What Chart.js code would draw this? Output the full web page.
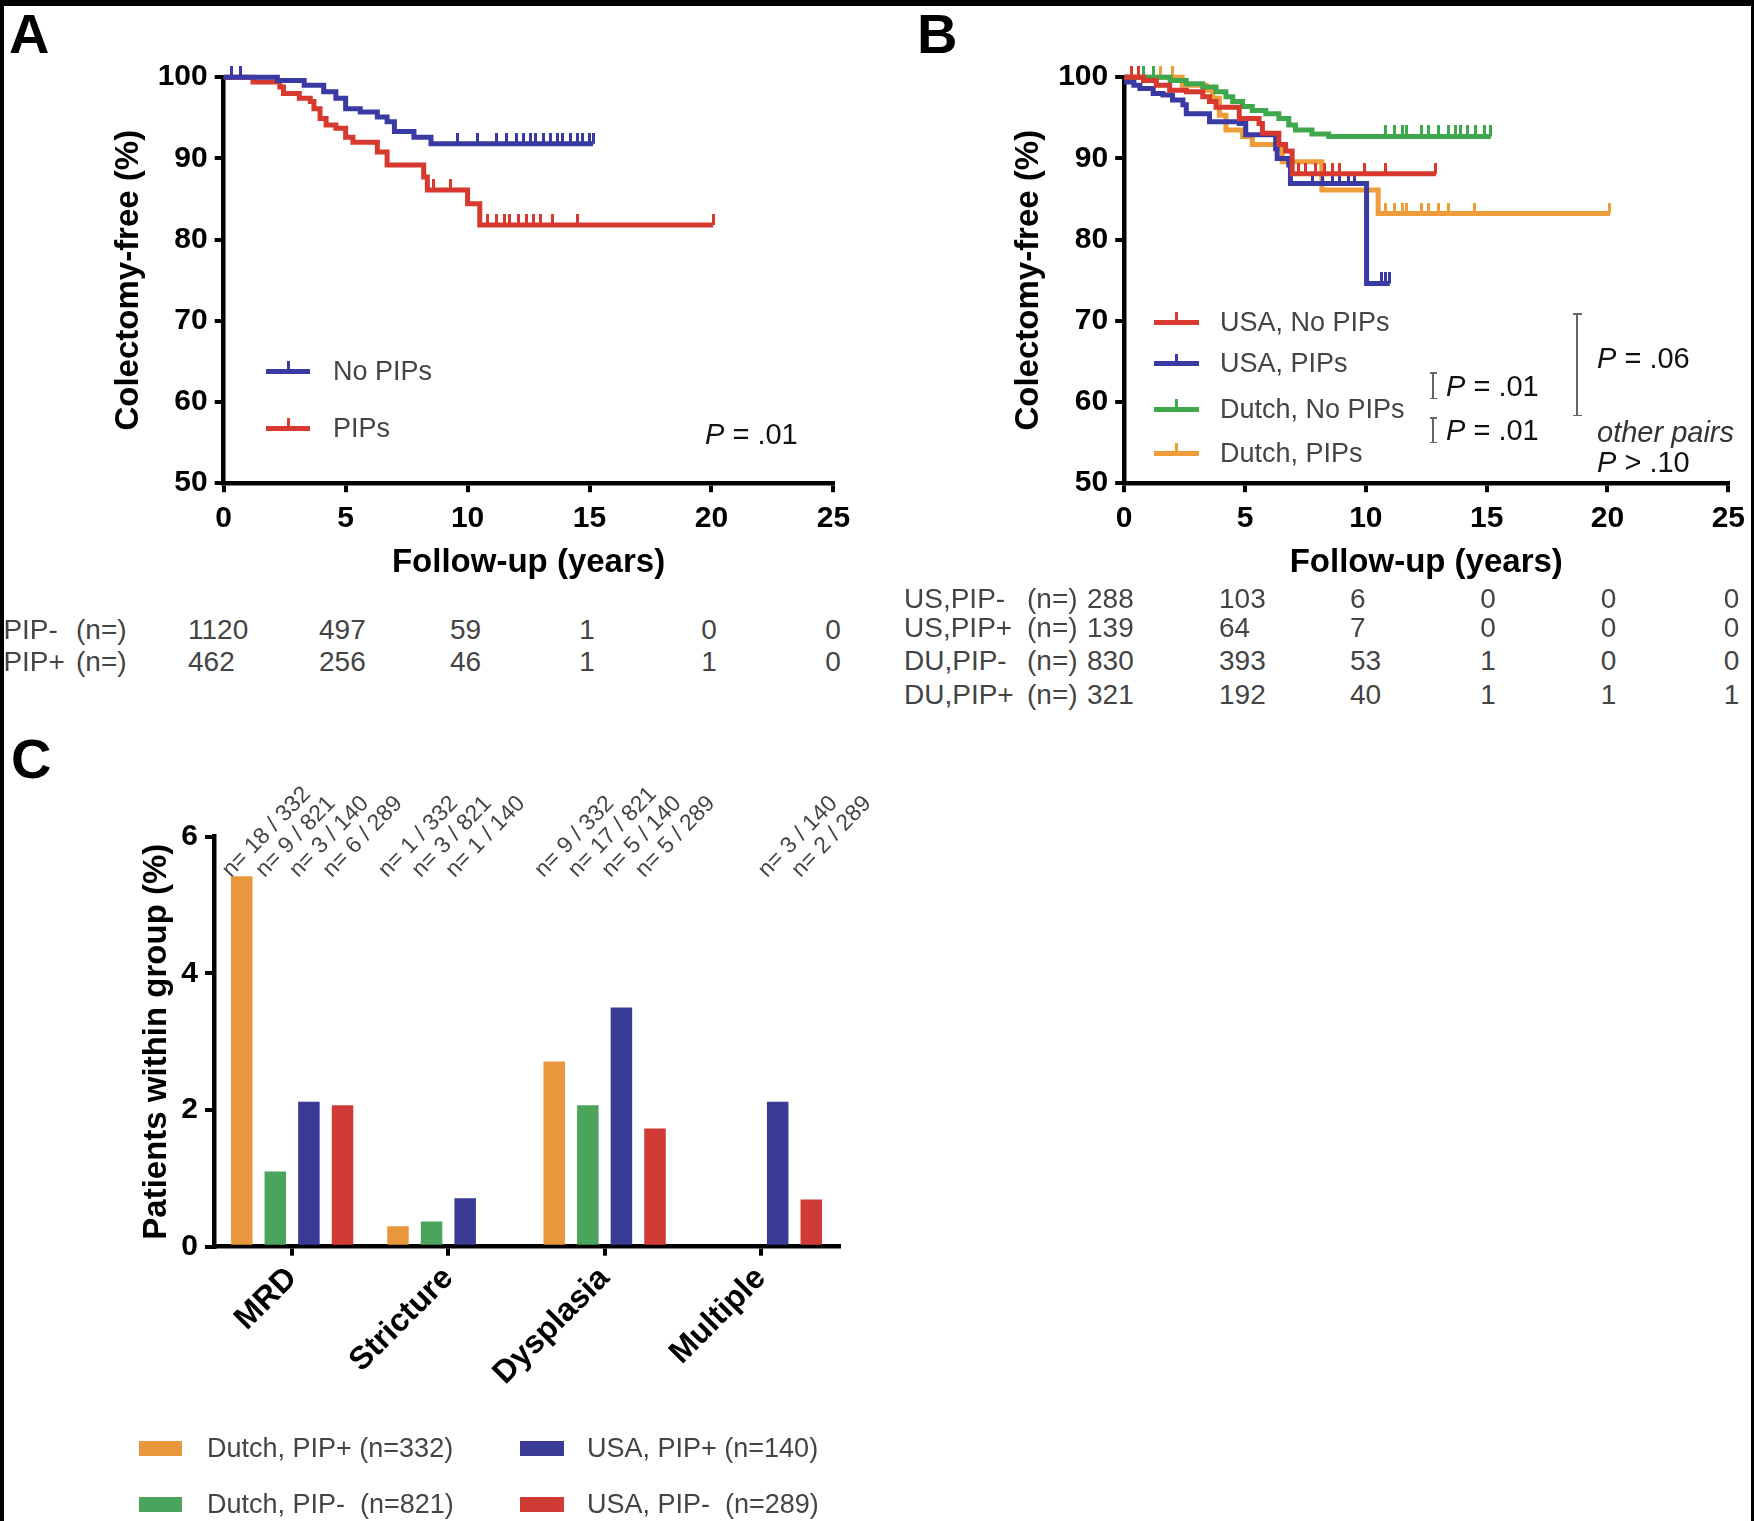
<!DOCTYPE html>
<html>
<head>
<meta charset="utf-8">
<title>Colectomy-free survival and colectomy indications</title>
<script src="https://cdn.jsdelivr.net/npm/chart.js@4.4.1/dist/chart.umd.min.js"></script>
<style>
  html, body { margin: 0; padding: 0; background: #fff; }
  #page {
    position: relative; width: 1754px; height: 1521px; overflow: hidden; background: #fff;
    font-family: "Liberation Sans", Arial, sans-serif;
  }
  #page canvas { position: absolute; }
  #frame {
    position: absolute; left: 0; top: 0; width: 1754px; height: 1521px; box-sizing: border-box;
    border-top: 6px solid #000; border-left: 4px solid #000; border-right: 3px solid #000;
    pointer-events: none; z-index: 5;
  }
  .txt { position: absolute; white-space: pre; line-height: 1; color: #444; z-index: 3; }
  .box { position: absolute; z-index: 3; }
</style>
</head>
<body>
<div id="page">
  <canvas id="chartA" width="860" height="600" style="left:0;top:0"></canvas>
  <canvas id="chartB" width="874" height="600" style="left:880px;top:0"></canvas>
  <canvas id="chartC" width="900" height="821" style="left:0;top:700px"></canvas>
  <div id="frame"></div>
</div>
<script>
// ---- data ----
const yearTicks = [0, 5, 10, 15, 20, 25];
const freeTicks = [50, 60, 70, 80, 90, 100];
const pctTicks = [0, 2, 4, 6];

// Panel A: colectomy-free (%) step points
const noPipYears = [0, 2.2, 3.3, 4.1, 4.6, 5.0, 5.6, 6.3, 6.7, 7.0, 7.8, 8.5, 15.15];
const noPipFree = [100, 99.6, 99.0, 98.2, 97.4, 96.1, 95.7, 95.1, 94.5, 93.3, 92.6, 91.8, 91.8];
const noPipCensored = [0.3, 0.7, 9.6, 10.4, 11.2, 11.6, 12.0, 12.3, 12.6, 12.8, 13.1, 13.4, 13.7, 13.9, 14.2, 14.5, 14.7, 15.0, 15.15];

const pipYears = [0, 1.2, 2.3, 2.45, 3.1, 3.55, 3.7, 3.95, 4.2, 4.6, 5.0, 5.3, 6.3, 6.7, 8.2, 8.35, 10.0, 10.5, 20.07];
const pipFree = [100, 99.4, 98.8, 98.0, 97.4, 97.0, 96.1, 94.9, 94.1, 93.7, 92.6, 92.0, 90.8, 89.2, 87.7, 86.1, 84.4, 81.8, 81.8];
const pipCensored = [8.6, 9.3, 10.8, 11.2, 11.5, 11.7, 12.1, 12.4, 12.7, 13.0, 13.5, 14.5, 20.07];

// Panel B
const usNoPipYears = [0, 0.8, 1.33, 1.88, 2.57, 3.25, 3.53, 3.8, 4.76, 5.58, 5.72, 6.4, 6.68, 6.95, 12.9];
const usNoPipFree = [100, 99.6, 99.0, 98.4, 98.2, 97.6, 97.0, 96.3, 94.9, 94.3, 93.1, 91.7, 90.9, 88.1, 88.1];
const usNoPipCensored = [0.3, 0.6, 7.2, 7.5, 7.9, 8.3, 8.6, 8.9, 9.96, 10.8, 12.9];

const usPipYears = [0, 0.1, 0.4, 0.65, 1.2, 1.6, 2.0, 2.43, 2.57, 3.53, 4.76, 5.03, 6.27, 6.33, 6.81, 6.88, 10.03, 10.99];
const usPipFree = [100, 99.4, 99.0, 98.6, 98.0, 97.8, 97.2, 96.6, 95.5, 94.5, 94.3, 92.9, 91.2, 90.0, 89.2, 86.9, 74.6, 74.6];
const usPipCensored = [7.8, 8.2, 8.6, 8.9, 9.3, 9.55, 10.65, 10.8, 10.99];

const duNoPipYears = [0, 1.9, 2.57, 3.25, 3.8, 4.21, 4.49, 4.9, 5.3, 5.86, 6.4, 6.81, 7.09, 7.77, 8.46, 15.17];
const duNoPipFree = [100, 99.6, 99.2, 98.8, 98.2, 97.6, 97.0, 96.4, 95.9, 95.5, 94.9, 94.1, 93.5, 93.0, 92.7, 92.7];
const duNoPipCensored = [0.8, 1.2, 10.8, 11.2, 11.5, 11.7, 12.3, 12.6, 13.0, 13.4, 13.7, 13.9, 14.2, 14.55, 14.9, 15.17];

const duPipYears = [0, 2.4, 3.39, 3.66, 3.94, 4.21, 4.9, 5.3, 6.27, 6.54, 8.18, 10.51, 20.1];
const duPipFree = [100, 99.0, 98.4, 97.4, 95.3, 93.5, 92.7, 91.7, 91.2, 89.6, 86.1, 83.2, 83.2];
const duPipCensored = [1.5, 2.0, 10.8, 11.2, 11.5, 11.7, 12.3, 12.6, 13.0, 13.4, 14.5, 20.1];

// numbers at risk
const riskNoPip = [1120, 497, 59, 1, 0, 0];
const riskPip = [462, 256, 46, 1, 1, 0];
const riskUsNoPip = [288, 103, 6, 0, 0, 0];
const riskUsPip = [139, 64, 7, 0, 0, 0];
const riskDuNoPip = [830, 393, 53, 1, 0, 0];
const riskDuPip = [321, 192, 40, 1, 1, 1];

// Panel C: patients within group (%)
const causes = ["MRD", "Stricture", "Dysplasia", "Multiple"];
const dutchPipPos = [5.42, 0.3, 2.71, null];
const dutchPipNeg = [1.1, 0.37, 2.07, null];
const usaPipPos = [2.12, 0.71, 3.5, 2.12];
const usaPipNeg = [2.07, null, 1.73, 0.69];
const dutchPipPosN = ["n= 18 / 332", "n= 1 / 332", "n= 9 / 332", null];
const dutchPipNegN = ["n= 9 / 821", "n= 3 / 821", "n= 17 / 821", null];
const usaPipPosN = ["n= 3 / 140", "n= 1 / 140", "n= 5 / 140", "n= 3 / 140"];
const usaPipNegN = ["n= 6 / 289", null, "n= 5 / 289", "n= 2 / 289"];

// ---- colours ----
const kmBlue = "#3a3aa4";
const kmRed = "#d8392f";
const kmGreen = "#3fa84c";
const kmOrange = "#ef9c3b";
const barOrange = "#e9973d";
const barGreen = "#4ba45b";
const barBlue = "#393b95";
const barRed = "#d03b36";

Chart.defaults.font.family = '"Liberation Sans", Arial, sans-serif';
Chart.defaults.color = "#000";

const axisFont = { size: 30, weight: "bold" };
const titleFont = { size: 33, weight: "bold" };
const titleHalf = 33 * 1.2 / 2;

function survivalAt(years, free, t) {
  let v = free[0];
  for (let i = 0; i < years.length; i++) {
    if (years[i] <= t) v = free[i];
  }
  return v;
}

// small upward censor tick, used as point style
function tickImage(color) {
  const c = document.createElement("canvas");
  c.width = 3;
  c.height = 22;
  const g = c.getContext("2d");
  g.fillStyle = color;
  g.fillRect(0, 0, 3, 11);
  return c;
}

function axisGrid() {
  return {
    display: true, drawOnChartArea: false, drawTicks: true,
    tickLength: 9, tickWidth: 4, tickColor: "#000", color: "#000", lineWidth: 4
  };
}

function kmChart(id, box, curves) {
  const xHeight = 110;
  const datasets = [];
  curves.forEach(function (c) {
    datasets.push({
      data: c.years.map((t, i) => ({ x: t, y: c.free[i] })),
      stepped: true, borderColor: c.color, borderWidth: 5,
      pointRadius: 0, fill: false, clip: false
    });
    datasets.push({
      data: c.censored.map(t => ({ x: t, y: survivalAt(c.years, c.free, t) })),
      showLine: false, pointStyle: tickImage(c.color), pointRadius: 5, clip: false
    });
  });

  return new Chart(document.getElementById(id), {
    type: "line",
    data: { datasets: datasets },
    options: {
      responsive: false,
      animation: false,
      layout: {
        padding: {
          left: 0,
          top: box.plotTop - box.top,
          right: box.left + box.width - box.plotRight,
          bottom: box.top + box.height - box.plotBottom - xHeight
        }
      },
      plugins: { legend: { display: false }, tooltip: { enabled: false } },
      scales: {
        x: {
          type: "linear", min: 0, max: 25,
          afterBuildTicks: s => { s.ticks = yearTicks.map(v => ({ value: v })); },
          afterFit: s => { s.height = xHeight; },
          grid: axisGrid(),
          border: { display: true, color: "#000", width: 4.5 },
          ticks: { font: axisFont, color: "#000", padding: 9, maxRotation: 0 },
          title: {
            display: true, text: "Follow-up (years)", font: titleFont, color: "#000",
            padding: { top: 0, bottom: box.plotBottom + xHeight - titleHalf - box.xTitleY }
          }
        },
        y: {
          type: "linear", min: 50, max: 100,
          afterBuildTicks: s => { s.ticks = freeTicks.map(v => ({ value: v })); },
          afterFit: s => { s.width = box.plotLeft - box.left; },
          grid: axisGrid(),
          border: { display: true, color: "#000", width: 4.5 },
          ticks: { font: axisFont, color: "#000", padding: 7 },
          title: {
            display: true, text: "Colectomy-free (%)", font: titleFont, color: "#000",
            padding: { top: box.yTitleX - box.left - titleHalf, bottom: 0 }
          }
        }
      }
    }
  });
}

kmChart("chartA",
  { left: 0, top: 0, width: 860, height: 600, plotLeft: 223.7, plotRight: 833.4, plotTop: 77.2, plotBottom: 483.2, yTitleX: 128.6, xTitleY: 562.7 },
  [
    { years: noPipYears, free: noPipFree, censored: noPipCensored, color: kmBlue },
    { years: pipYears, free: pipFree, censored: pipCensored, color: kmRed }
  ]);

kmChart("chartB",
  { left: 880, top: 0, width: 874, height: 600, plotLeft: 1124.2, plotRight: 1732.7, plotTop: 77.2, plotBottom: 483.2, yTitleX: 1029, xTitleY: 562.7 },
  [
    { years: usNoPipYears, free: usNoPipFree, censored: usNoPipCensored, color: kmRed },
    { years: usPipYears, free: usPipFree, censored: usPipCensored, color: kmBlue },
    { years: duNoPipYears, free: duNoPipFree, censored: duNoPipCensored, color: kmGreen },
    { years: duPipYears, free: duPipFree, censored: duPipCensored, color: kmOrange }
  ]);

// rotated "n= x / y" labels above each bar, starting at the tallest bar's top
const nLabelPlugin = {
  id: "nLabels",
  afterDatasetsDraw(chart) {
    const ctx = chart.ctx;
    let maxVal = 0;
    chart.data.datasets.forEach(ds => ds.data.forEach(v => { if (v != null && v > maxVal) maxVal = v; }));
    const top = chart.scales.y.getPixelForValue(maxVal) + 2;
    chart.data.datasets.forEach((ds, i) => {
      const meta = chart.getDatasetMeta(i);
      ds.nLabels.forEach((txt, j) => {
        if (!txt) return;
        const bar = meta.data[j];
        ctx.save();
        ctx.translate(bar.x - bar.width / 2, top);
        ctx.rotate(-46 * Math.PI / 180);
        ctx.font = '23px "Liberation Sans", Arial, sans-serif';
        ctx.fillStyle = "#444";
        ctx.textAlign = "left";
        ctx.textBaseline = "alphabetic";
        ctx.fillText(txt, 0, 0);
        ctx.restore();
      });
    });
  }
};

const boxC = { left: 0, top: 700, width: 900, height: 821, plotLeft: 214, plotRight: 839, plotTop: 836.7, plotBottom: 1246.7, yTitleX: 156.6 };

new Chart(document.getElementById("chartC"), {
  type: "bar",
  data: {
    labels: causes,
    datasets: [
      { label: "Dutch, PIP+ (n=332)", data: dutchPipPos, nLabels: dutchPipPosN, backgroundColor: barOrange },
      { label: "Dutch, PIP-  (n=821)", data: dutchPipNeg, nLabels: dutchPipNegN, backgroundColor: barGreen },
      { label: "USA, PIP+ (n=140)", data: usaPipPos, nLabels: usaPipPosN, backgroundColor: barBlue },
      { label: "USA, PIP-  (n=289)", data: usaPipNeg, nLabels: usaPipNegN, backgroundColor: barRed }
    ]
  },
  options: {
    responsive: false,
    animation: false,
    datasets: { bar: { barPercentage: 0.64, categoryPercentage: 0.86 } },
    layout: {
      padding: { left: 0, top: boxC.plotTop - boxC.top, right: boxC.left + boxC.width - boxC.plotRight, bottom: 0 }
    },
    plugins: { legend: { display: false }, tooltip: { enabled: false } },
    scales: {
      x: {
        afterFit: s => { s.height = boxC.top + boxC.height - boxC.plotBottom; },
        grid: Object.assign(axisGrid(), { offset: false }),
        border: { display: true, color: "#000", width: 4.5 },
        ticks: { font: { size: 32, weight: "bold" }, color: "#000", minRotation: 45, maxRotation: 45, padding: 4 }
      },
      y: {
        min: 0, max: 6,
        afterBuildTicks: s => { s.ticks = pctTicks.map(v => ({ value: v })); },
        afterFit: s => { s.width = boxC.plotLeft - boxC.left; },
        grid: axisGrid(),
        border: { display: true, color: "#000", width: 4.5 },
        ticks: { font: axisFont, color: "#000", padding: 7 },
        title: {
          display: true, text: "Patients within group (%)", font: titleFont, color: "#000",
          padding: { top: boxC.yTitleX - boxC.left - titleHalf, bottom: 0 }
        }
      }
    }
  },
  plugins: [nLabelPlugin]
});

// ---- text, legends and tables around the charts ----
const page = document.getElementById("page");

function addText(x, yMid, html, size, opts) {
  opts = opts || {};
  const d = document.createElement("div");
  d.className = "txt";
  d.innerHTML = html;
  d.style.fontSize = size + "px";
  d.style.top = (yMid - size * 0.49) + "px";
  d.style.left = x + "px";
  if (opts.align === "center") d.style.transform = "translateX(-50%)";
  if (opts.bold) d.style.fontWeight = "bold";
  if (opts.italic) d.style.fontStyle = "italic";
  if (opts.color) d.style.color = opts.color;
  page.appendChild(d);
  return d;
}

function addBox(x, y, w, h, color) {
  const d = document.createElement("div");
  d.className = "box";
  d.style.left = x + "px";
  d.style.top = y + "px";
  d.style.width = w + "px";
  d.style.height = h + "px";
  d.style.background = color;
  page.appendChild(d);
}

function legendLine(x1, x2, y, color) {
  addBox(x1, y - 2.5, x2 - x1, 5, color);
  addBox((x1 + x2) / 2 - 1.5, y - 10, 3, 10, color);
}

function bracket(x, y1, y2, cap) {
  addBox(x - 0.75, y1, 1.5, y2 - y1, "#666");
  addBox(x - cap / 2, y1, cap, 1.5, "#666");
  addBox(x - cap / 2, y2 - 1.5, cap, 1.5, "#666");
}

// panel letters
addText(9, 33.5, "A", 56, { bold: true, color: "#000" });
addText(917, 33.5, "B", 56, { bold: true, color: "#000" });
addText(11, 758, "C", 56, { bold: true, color: "#000" });

// panel A legend and P value
legendLine(266, 310, 371.4, kmBlue);
addText(333, 371.4, "No PIPs", 27);
legendLine(266, 310, 428.4, kmRed);
addText(333, 428.4, "PIPs", 27);
addText(705, 434, "<i>P</i> = .01", 29, { color: "#111" });

// panel B legend and P values
const legendB = [["USA, No PIPs", kmRed], ["USA, PIPs", kmBlue], ["Dutch, No PIPs", kmGreen], ["Dutch, PIPs", kmOrange]];
const legendBY = [322.2, 363.5, 409.4, 453.0];
legendB.forEach(function (item, i) {
  legendLine(1154, 1199, legendBY[i], item[1]);
  addText(1220, legendBY[i], item[0], 27);
});
bracket(1433, 372, 399, 7);
addText(1446, 386, "<i>P</i> = .01", 29, { color: "#111" });
bracket(1433, 417, 443, 7);
addText(1446, 430.7, "<i>P</i> = .01", 29, { color: "#111" });
bracket(1577, 313, 416, 9);
addText(1597, 358, "<i>P</i> = .06", 29, { color: "#111" });
addText(1597, 431.8, "other pairs", 29, { italic: true, color: "#333" });
addText(1597, 462, "<i>P</i> &gt; .10", 29, { color: "#111" });

// numbers at risk
function riskRow(label, labelX, nX, y, values, cols) {
  addText(labelX, y, label, 28);
  addText(nX, y, "(n=)", 28);
  values.forEach(function (v, i) {
    addText(cols[i][0], y, String(v), 28, { align: cols[i][1] });
  });
}
const colsA = [[188, "left"], [319, "left"], [450, "left"], [587, "center"], [709, "center"], [833, "center"]];
riskRow("PIP-", 3.4, 76, 630, riskNoPip, colsA);
riskRow("PIP+", 3.4, 76, 662, riskPip, colsA);

const colsB = [[1087, "left"], [1219, "left"], [1350, "left"], [1488, "center"], [1608.6, "center"], [1731.6, "center"]];
riskRow("US,PIP-", 904, 1027, 598.5, riskUsNoPip, colsB);
riskRow("US,PIP+", 904, 1027, 627.5, riskUsPip, colsB);
riskRow("DU,PIP-", 904, 1027, 661, riskDuNoPip, colsB);
riskRow("DU,PIP+", 904, 1027, 694.5, riskDuPip, colsB);

// panel C legend
const legendC = [
  ["Dutch, PIP+ (n=332)", barOrange, 138.7, 207, 1448.6],
  ["USA, PIP+ (n=140)", barBlue, 520, 587, 1448.6],
  ["Dutch, PIP-  (n=821)", barGreen, 138.7, 207, 1504.5],
  ["USA, PIP-  (n=289)", barRed, 520, 587, 1504.5]
];
legendC.forEach(function (item) {
  addBox(item[2], item[4] - 7.9, 43.6, 15.7, item[1]);
  addText(item[3], item[4], item[0], 27);
});
</script>
</body>
</html>
